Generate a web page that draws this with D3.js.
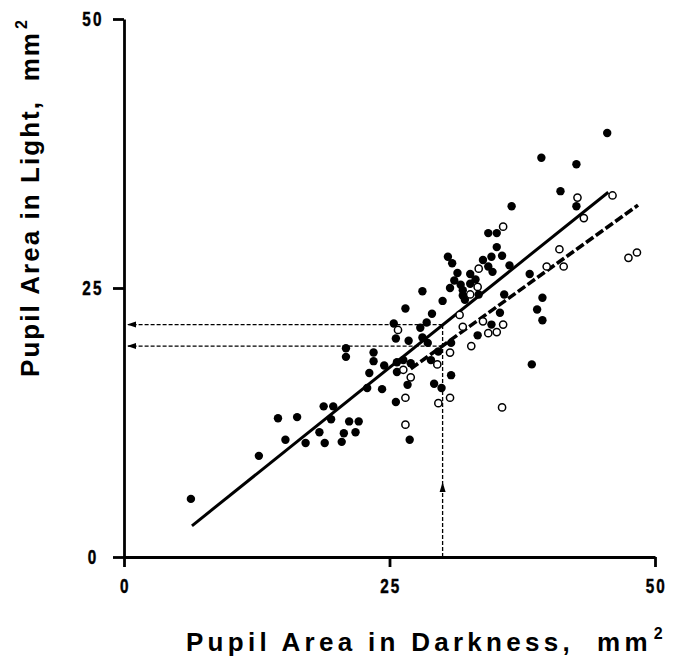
<!DOCTYPE html>
<html><head><meta charset="utf-8">
<script src="https://cdn.jsdelivr.net/npm/d3@7"></script>
<style>body{margin:0;background:#fff}</style>
</head><body><svg id="c" width="675" height="659"></svg>
<script>
// ---- data ----
const xTicks = [0, 25, 50];
const yTicks = [0, 25, 50];
const filledX = [6.3,12.7,14.5,16.3,15.2,17.1,18.4,18.9,18.8,19.7,
  19.5,20.5,20.7,21.2,22.1,21.8,20.9,20.9,23.5,23.5,
  23.1,22.9,24.3,24.5,25.6,25.6,25.4,25.7,25.7,26.3,
  27.0,26.7,26.9,26.5,28.1,30.0,29.0,28.5,27.9,26.8,
  28.1,28.6,28.9,29.6,29.2,29.9,30.8,30.8,33.3,34.6,
  35.4,35.8,38.2,39.4,38.9,39.4,38.4,36.5,34.3,35.1,
  35.1,30.5,30.9,33.8,34.6,35.6,34.3,34.7,36.3,31.4,
  32.6,33.1,31.1,31.7,30.7,32.6,31.9,31.9,33.4,32.1,
  39.3,42.6,41.1,42.6,45.5];
const filledY = [5.4,9.4,12.9,13.0,10.9,10.6,11.6,10.6,14.0,14.0,
  12.8,10.7,11.5,12.6,12.6,11.6,19.4,18.6,19.0,18.2,
  17.1,15.7,15.6,17.8,14.4,20.3,21.7,17.2,18.1,18.3,
  18.0,16.0,10.9,23.1,24.7,23.8,22.6,21.8,21.3,20.1,
  20.4,19.9,18.3,19.1,16.1,15.7,16.9,19.9,20.6,21.6,
  22.7,24.4,26.3,24.1,23.0,22.0,17.9,32.6,30.1,30.1,
  28.8,27.9,27.3,27.6,27.9,28.0,27.0,26.5,27.1,26.4,
  26.3,25.8,25.7,25.3,25.0,25.4,24.8,24.3,24.4,23.9,
  37.1,36.5,34.0,32.6,39.4];
const openX = [25.8,26.3,27.0,26.5,26.5,29.5,30.7,29.6,30.7,31.6,
  31.9,32.7,33.8,34.3,35.1,35.7,35.6,33.4,32.6,33.3,
  35.7,39.8,41.0,41.4,42.7,43.3,46.0,47.5,48.3];
const openY = [21.1,17.4,16.7,14.8,12.3,17.9,19.0,14.3,14.8,22.5,
  21.4,19.6,21.9,20.8,20.9,21.6,13.9,26.8,24.4,25.1,
  30.7,27.0,28.6,27.0,33.4,31.5,33.6,27.8,28.3];
const solidLineX = [6.4, 45.6], solidLineY = [2.9, 33.9];
const dashedLineX = [27.0, 48.4], dashedLineY = [17.5, 32.7];
const refX = 30, refY = [21.6, 19.6];
const arrowUpY = 6.5;
const xTitle = "Pupil Area in Darkness,  mm", yTitle = "Pupil Area in Light,  mm", supText = "2";

// ---- chart ----
const svg = d3.select("#c");
const x = d3.scaleLinear().domain([0, 50]).range([124, 655]);
const y = d3.scaleLinear().domain([0, 50]).range([557, 19]);
const tickFont = '"Liberation Sans Narrow","Liberation Sans",Arial,sans-serif';
const titleFont = '"Liberation Sans",Arial,Helvetica,sans-serif';

// reference lines (thin dashed)
const g = svg.append("g");
g.append("line").attr("x1", x(refX)).attr("x2", x(refX)).attr("y1", y(0)).attr("y2", y(refY[0]))
  .attr("stroke","#000").attr("stroke-width",1.3).attr("stroke-dasharray","4,2");
refY.forEach(v => {
  g.append("line").attr("x1", x(refX)).attr("x2", x(0)+4).attr("y1", y(v)).attr("y2", y(v))
    .attr("stroke","#000").attr("stroke-width",1.3).attr("stroke-dasharray","4,2");
  const tx = x(0)+3, ty = y(v);
  g.append("path").attr("d", `M${tx},${ty} L${tx+9},${ty-3} L${tx+9},${ty+3} Z`).attr("fill","#000");
});
{
  const tx = x(refX), ty = y(arrowUpY);
  g.append("path").attr("d", `M${tx},${ty-5} L${tx-3},${ty+5} L${tx+3},${ty+5} Z`).attr("fill","#000");
}

// regression lines
const line = d3.line().x(d => x(d[0])).y(d => y(d[1]));
svg.append("path").datum(d3.zip(solidLineX, solidLineY)).attr("d", line)
  .attr("stroke","#000").attr("stroke-width",3).attr("fill","none");
svg.append("path").datum(d3.zip(dashedLineX, dashedLineY)).attr("d", line)
  .attr("stroke","#000").attr("stroke-width",3.6).attr("fill","none").attr("stroke-dasharray","9,3");

// points
svg.append("g").selectAll("circle").data(d3.zip(filledX, filledY)).join("circle")
  .attr("cx", d => x(d[0])).attr("cy", d => y(d[1])).attr("r", 4.2).attr("fill","#000");
svg.append("g").selectAll("circle").data(d3.zip(openX, openY)).join("circle")
  .attr("cx", d => x(d[0])).attr("cy", d => y(d[1])).attr("r", 3.6)
  .attr("fill","#fff").attr("stroke","#000").attr("stroke-width",1.5);

// axes
const yAxis = svg.append("g").attr("transform", `translate(${x(0)},0)`)
  .call(d3.axisLeft(y).tickValues(yTicks).tickSize(11).tickSizeOuter(0).tickFormat(d3.format("d")));
const xAxis = svg.append("g").attr("transform", `translate(0,${y(0)})`)
  .call(d3.axisBottom(x).tickValues(xTicks).tickSize(10).tickSizeOuter(0).tickFormat(d3.format("d")));
[yAxis, xAxis].forEach(a => {
  a.select(".domain").attr("stroke-width", 2.8);
  a.selectAll(".tick line").attr("stroke-width", 2.8);
  a.selectAll("text").attr("font-family", tickFont).attr("font-weight","bold")
    .attr("font-size", 18).attr("letter-spacing", 2.5).attr("fill","#000")
    .attr("stroke","#000").attr("stroke-width",0.4)
    .attr("transform", "scale(0.85,1.1)");
});
yAxis.selectAll("text").attr("x", -31/0.85).attr("dy", "0.35em").attr("text-anchor","middle");
xAxis.selectAll("text").attr("y", 29/1.1).attr("dy", "0.35em").attr("text-anchor","middle").attr("dx", 1);
yAxis.selectAll(".tick text").attr("y", 0);

// titles
function title(sel, txt, target) {
  const t = sel.append("text").attr("font-family", titleFont).attr("font-weight","bold")
    .attr("font-size", 26).attr("fill","#000").style("white-space","pre");
  t.append("tspan").text(txt);
  t.append("tspan").attr("font-size", 16).attr("dy", -12).attr("dx", 2).text(supText);
  const n = txt.length + 1;
  const w = t.node().getComputedTextLength();
  t.attr("letter-spacing", Math.max(0, (target - w) / n));
  return t;
}
title(svg.append("g").attr("transform", "translate(186,651)"), xTitle, 479);
title(svg.append("g").attr("transform", "translate(39,377) rotate(-90)"), yTitle, 357);
</script></body></html>
